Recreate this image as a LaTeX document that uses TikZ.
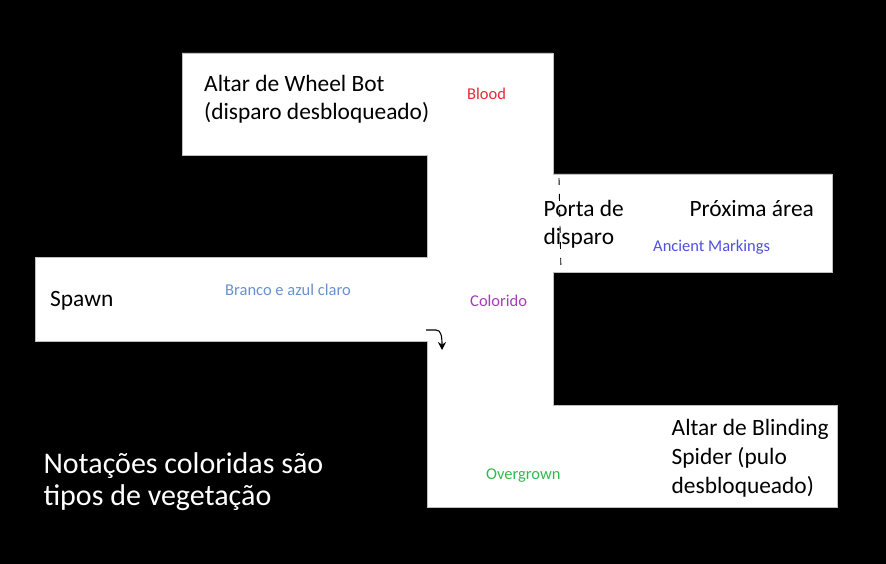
\documentclass[tikz,border=0pt]{standalone}
\usepackage{fontspec}
\setmainfont{Carlito}
\usetikzlibrary{arrows.meta}
\definecolor{cblood}{RGB}{232,40,50}
\definecolor{cancient}{RGB}{80,80,225}
\definecolor{cbranco}{RGB}{105,145,210}
\definecolor{ccolor}{RGB}{165,60,185}
\definecolor{cover}{RGB}{50,185,80}
\tikzset{
  room/.style={fill=white, draw=gray!50, line width=0.5pt},
  big/.style={anchor=base west, inner sep=0pt, font=\fontsize{23.4}{28}\selectfont, text=black},
  small/.style={anchor=base west, inner sep=0pt, font=\fontsize{16.5}{20}\selectfont},
  note/.style={anchor=base west, inner sep=0pt, font=\fontsize{30}{33}\selectfont, text=white},
  door/.style={draw=black, line width=0.9pt, dash pattern=on 7pt off 9pt},
  turn/.style={draw=black, line width=1.1pt, -{Stealth[length=8pt,width=8pt]}}
}
\begin{document}
\begin{tikzpicture}[x=1pt,y=-1pt]
\fill[black] (0,0) rectangle (886,564);
\useasboundingbox (0,0) rectangle (886,564);
% rooms
\path[room] (182,53) -- (553,53) -- (553,174) -- (832,174) -- (832,272)
  -- (553,272) -- (553,405) -- (837,405) -- (837,507) -- (427,507)
  -- (427,341) -- (35,341) -- (35,257) -- (427,257) -- (427,155)
  -- (182,155) -- cycle;
% door
\coordinate (d1) at (559,178);
\coordinate (d2) at (561,273);
\draw[door] (d1) -- (d2);
% turn arrow
\coordinate (a1) at (426,330);
\coordinate (a2) at (442,350);
\draw[turn] (a1) -- (436,330) .. controls (441,330) and (442,336) .. (a2);
% texts
\node[big] (wheel1) at (204,91.7) {Altar de Wheel Bot};
\node[big] (wheel2) at (204,119.7) {(disparo desbloqueado)};
\node[small, text=cblood] (blood) at (467,100) {Blood};
\node[big] (porta1) at (543.5,216.7) {Porta de};
\node[big] (porta2) at (543.5,244.7) {disparo};
\node[big] (prox) at (689.3,216.7) {Próxima área};
\node[small, text=cancient] (anc) at (653,251.5) {Ancient Markings};
\node[big] (spawn) at (50,306.7) {Spawn};
\node[small, text=cbranco] (branco) at (225,295) {Branco e azul claro};
\node[small, text=ccolor] (colorido) at (470,306.7) {Colorido};
\node[small, text=cover] (over) at (486,479.5) {Overgrown};
\node[big] (spider1) at (671.5,435) {Altar de Blinding};
\node[big] (spider2) at (671.5,464) {Spider (pulo};
\node[big] (spider3) at (671.5,493) {desbloqueado)};
\node[note] (notes1) at (43.3,473.3) {Notações coloridas são};
\node[note] (notes2) at (43.3,505.7) {tipos de vegetação};
\end{tikzpicture}
\end{document}
